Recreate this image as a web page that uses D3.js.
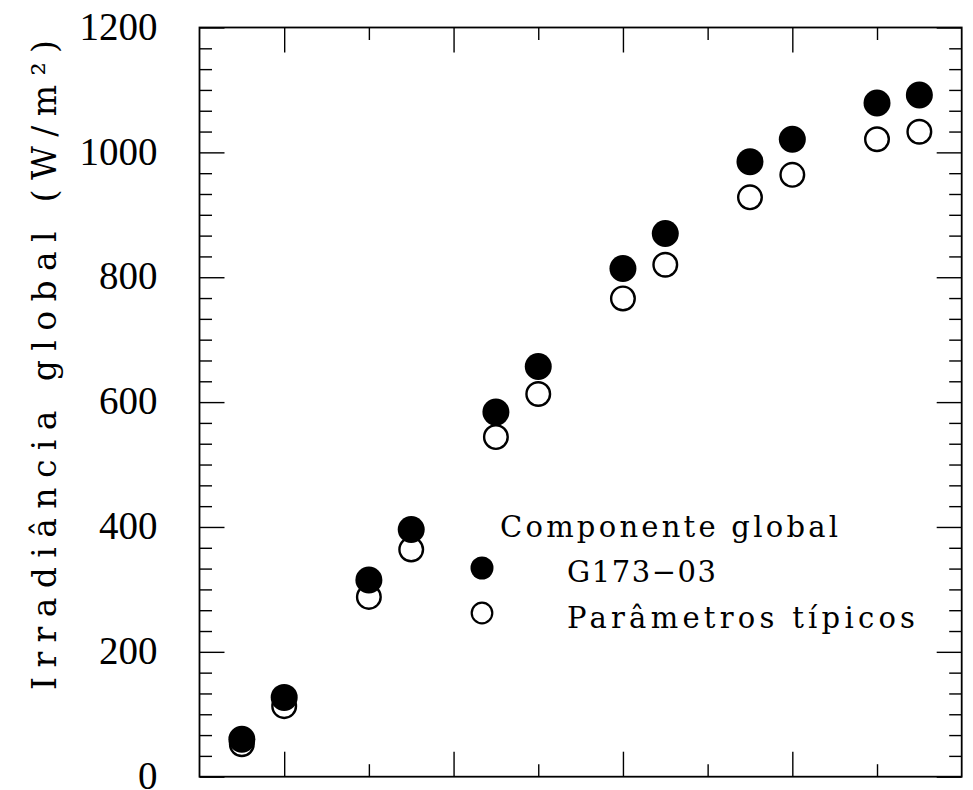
<!DOCTYPE html>
<html>
<head>
<meta charset="utf-8">
<script src="https://cdn.jsdelivr.net/npm/d3@7"></script>
<style>
  html, body { margin: 0; padding: 0; background: #fff; }
  svg { display: block; }
  text { fill: #000; }
</style>
</head>
<body>
<svg id="chart" width="973" height="790"></svg>
<script>
// ---- data ----
const xValues = [0.5, 1, 2, 2.5, 3.5, 4, 5, 5.5, 6.5, 7, 8, 8.5];
const g17303 = [60, 127, 315, 396, 584, 657, 814, 870, 985, 1021, 1079, 1092];
const tipicos = [52, 113, 288, 364, 544, 613, 766, 820, 928, 964, 1021, 1033];
const yMajorTicks = [0, 200, 400, 600, 800, 1000, 1200];
const yMinorTicks = d3.range(0, 1200.001, 200 / 6).filter(v => Math.abs(v / 200 - Math.round(v / 200)) > 1e-6);
const xMajorTicks = [1, 3, 5, 7];
const xMinorTicks = [2, 4, 6, 8];
const xDomain = [0, 9];
const yDomain = [0, 1200];
const yTitle = "Irradiância  global  (W/m²)";
const legendTitle = "Componente  global";
const seriesNames = ["G173\u221203", "Parâmetros  típicos"];

// ---- layout ----
const svg = d3.select("#chart");
const L = 199.5, R = 961.7, T = 27.5, B = 776.7;
const x = d3.scaleLinear().domain(xDomain).range([L, R]);
const y = d3.scaleLinear().domain(yDomain).range([B, T]);
const MAJ = 25, MIN = 12.5;
const SERIF_A = "'Liberation Serif', serif";
const SERIF_B = "'DejaVu Serif', serif";

function styleAxis(g) {
  g.select(".domain").remove();
  g.selectAll(".tick line").attr("stroke", "#000").attr("stroke-width", 1.4);
}

// left axis major with labels
svg.append("g").attr("transform", `translate(${L},0)`)
  .call(d3.axisLeft(y).tickValues(yMajorTicks).tickSizeInner(-MAJ).tickSizeOuter(0).tickPadding(MAJ + 17).tickFormat(d3.format("d")))
  .call(styleAxis)
  .call(g => g.selectAll(".tick text").style("font-size", "39px").style("font-family", SERIF_A).attr("dy", "0.3em"));
svg.append("g").attr("transform", `translate(${L},0)`)
  .call(d3.axisLeft(y).tickValues(yMinorTicks).tickSizeInner(-MIN).tickSizeOuter(0).tickFormat(""))
  .call(styleAxis);
// right axis
svg.append("g").attr("transform", `translate(${R},0)`)
  .call(d3.axisRight(y).tickValues(yMajorTicks).tickSizeInner(-MAJ).tickSizeOuter(0).tickFormat(""))
  .call(styleAxis);
svg.append("g").attr("transform", `translate(${R},0)`)
  .call(d3.axisRight(y).tickValues(yMinorTicks).tickSizeInner(-MIN).tickSizeOuter(0).tickFormat(""))
  .call(styleAxis);
// bottom axis
svg.append("g").attr("transform", `translate(0,${B})`)
  .call(d3.axisBottom(x).tickValues(xMajorTicks).tickSizeInner(-MAJ).tickSizeOuter(0).tickFormat(""))
  .call(styleAxis);
svg.append("g").attr("transform", `translate(0,${B})`)
  .call(d3.axisBottom(x).tickValues(xMinorTicks).tickSizeInner(-MIN).tickSizeOuter(0).tickFormat(""))
  .call(styleAxis);
// top axis
svg.append("g").attr("transform", `translate(0,${T})`)
  .call(d3.axisTop(x).tickValues(xMajorTicks).tickSizeInner(-MAJ).tickSizeOuter(0).tickFormat(""))
  .call(styleAxis);
svg.append("g").attr("transform", `translate(0,${T})`)
  .call(d3.axisTop(x).tickValues(xMinorTicks).tickSizeInner(-MIN).tickSizeOuter(0).tickFormat(""))
  .call(styleAxis);

// frame
svg.append("rect")
  .attr("x", x(xDomain[0])).attr("y", y(yDomain[1]))
  .attr("width", x(xDomain[1]) - x(xDomain[0]))
  .attr("height", y(yDomain[0]) - y(yDomain[1]))
  .attr("fill", "none").attr("stroke", "#000").attr("stroke-width", 1.8);

// y title
svg.append("text")
  .attr("transform", `translate(56,365) rotate(-90)`)
  .attr("text-anchor", "middle")
  .style("font-family", SERIF_B)
  .style("font-size", "33px")
  .attr("textLength", 650)
  .attr("lengthAdjust", "spacing")
  .text(yTitle);

// points
const RAD = 13;
const pts1 = xValues.map((v, i) => ({ x: v, y: g17303[i] }));
const pts2 = xValues.map((v, i) => ({ x: v, y: tipicos[i] }));

svg.append("g").selectAll("circle").data(pts2).join("circle")
  .attr("cx", d => x(d.x)).attr("cy", d => y(d.y)).attr("r", RAD - 1.2)
  .attr("fill", "#fff").attr("stroke", "#000").attr("stroke-width", 2.4);
svg.append("g").selectAll("circle").data(pts1).join("circle")
  .attr("cx", d => x(d.x)).attr("cy", d => y(d.y)).attr("r", RAD + 0.5)
  .attr("fill", "#000");

// legend
const lg = svg.append("g");
lg.append("text").attr("x", 500).attr("y", 537).style("font-size", "29px").style("font-family", SERIF_B)
  .attr("textLength", 338).attr("lengthAdjust", "spacing").text(legendTitle);
lg.append("circle").attr("cx", 482).attr("cy", 568).attr("r", 11.5).attr("fill", "#000");
lg.append("text").attr("x", 567).attr("y", 582).style("font-size", "29px").style("font-family", SERIF_B)
  .attr("textLength", 149).attr("lengthAdjust", "spacing").text(seriesNames[0]);
lg.append("circle").attr("cx", 482).attr("cy", 613).attr("r", 10.3)
  .attr("fill", "#fff").attr("stroke", "#000").attr("stroke-width", 2.2);
lg.append("text").attr("x", 567).attr("y", 628).style("font-size", "29px").style("font-family", SERIF_B)
  .attr("textLength", 348).attr("lengthAdjust", "spacing").text(seriesNames[1]);
</script>
</body>
</html>
